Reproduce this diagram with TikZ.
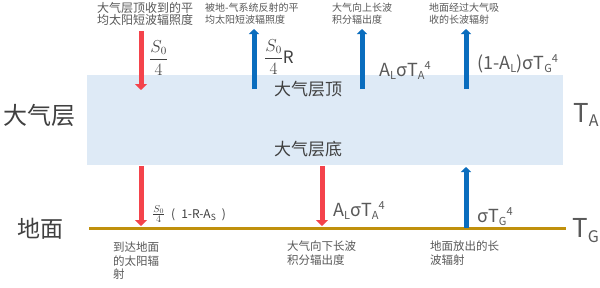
\documentclass[tikz,border=0pt]{standalone}
\usepackage{amsmath}
\usepackage{fontspec}
\newfontfamily\cjk{Noto Sans CJK SC}
\usetikzlibrary{arrows.meta, positioning}

\definecolor{sunred}{HTML}{F4434B}
\definecolor{heatblue}{HTML}{0A6DBE}
\definecolor{airblue}{HTML}{DEEAF6}
\definecolor{soilgold}{HTML}{C0900C}
\definecolor{txtgray}{HTML}{595959}
\definecolor{lblgray}{HTML}{404040}

\newcommand{\lowtxt}[1]{\raisebox{-3pt}{\fontsize{11}{11}\selectfont #1}}
\newcommand{\hightxt}[1]{\raisebox{7pt}{\fontsize{11}{11}\selectfont #1}}

\begin{document}
\begin{tikzpicture}[x=1pt, y=-1pt,
    redflux/.style={sunred, line width=5pt, -{Triangle[length=6pt, width=12pt]}},
    blueflux/.style={heatblue, line width=5pt, -{Triangle[length=5pt, width=10pt]}},
    note/.style={font=\cjk\fontsize{10}{12}\selectfont, text=txtgray, align=left, inner sep=0pt, anchor=north west},
    bignote/.style={font=\cjk\fontsize{11.5}{13.5}\selectfont, text=txtgray, align=left, inner sep=0pt, anchor=north west},
    formula/.style={font=\cjk\fontsize{18}{18}\selectfont, text=txtgray, inner sep=0pt, anchor=base west},
    layer/.style={font=\cjk\fontsize{24}{24}\selectfont, text=lblgray, inner sep=0pt}]
        \useasboundingbox (0,0) rectangle (600,287);
        \fill[white] (0,0) rectangle (600,287);

        % atmosphere slab and ground line
        \node[fill=airblue, minimum width=476pt, minimum height=90pt, inner sep=0pt, anchor=north west] (atm) at (87,75) {};
        \coordinate (gl) at (89,228);
        \coordinate (gr) at (566,228);
        \draw[soilgold, line width=3pt] (gl) -- (gr);

        % layer names
        \node[layer] (atmlbl) at (40,115) {大气层};
        \node[layer, font=\cjk\fontsize{23}{23}\selectfont] (gndlbl) at (40,229) {地面};
        \node[font=\cjk\fontsize{17}{17}\selectfont, text=lblgray] (atmtop) at (308,89) {大气层顶};
        \node[font=\cjk\fontsize{17}{17}\selectfont, text=lblgray] (atmbot) at (308,149) {大气层底};
        \node[anchor=base west, inner sep=0pt, text=txtgray] (ta) at (573,122) {\cjk\fontsize{26}{26}\selectfont T\raisebox{-4pt}{\fontsize{16}{16}\selectfont A}};
        \node[anchor=base west, inner sep=0pt, text=txtgray] (tg) at (572,237) {\cjk\fontsize{26}{26}\selectfont T\raisebox{-5pt}{\fontsize{16}{16}\selectfont G}};

        % flux end points
        \coordinate (s0a) at (141,31);
        \coordinate (s0b) at (141,90);
        \coordinate (rfa) at (254,89);
        \coordinate (rfb) at (254,29);
        \coordinate (lua) at (362,89);
        \coordinate (lub) at (362,29);
        \coordinate (gua) at (466,89);
        \coordinate (gub) at (466,29);
        \coordinate (sga) at (141,166);
        \coordinate (sgb) at (141,226);
        \coordinate (lda) at (322,166);
        \coordinate (ldb) at (322,226);
        \coordinate (gea) at (466,228);
        \coordinate (geb) at (466,167);

        % fluxes
        \draw[redflux] (s0a) -- (s0b);
        \draw[blueflux] (rfa) -- (rfb);
        \draw[blueflux] (lua) -- (lub);
        \draw[blueflux] (gua) -- (gub);
        \draw[redflux] (sga) -- (sgb);
        \draw[redflux] (lda) -- (ldb);
        \draw[blueflux] (gea) -- (geb);

        % flux values
        \node[anchor=west, inner sep=0pt, text=lblgray] (f1) at (149,58) {\fontsize{16}{16}\selectfont$\dfrac{S_0}{4}$};
        \node[anchor=base west, inner sep=0pt, text=lblgray] (f2) at (264,63) {\fontsize{16}{16}\selectfont$\dfrac{S_0}{4}$\cjk\fontsize{17}{17}\selectfont R};
        \node[formula] (f3) at (379,76) {A\lowtxt{L}σT\lowtxt{A}\hightxt{4}};
        \node[formula] (f4) at (477,69) {(1-A\lowtxt{L})σT\lowtxt{G}\hightxt{4}};
        \node[anchor=base west, inner sep=0pt, text=lblgray] (f5) at (152,218) {\fontsize{14}{14}\selectfont$\frac{S_0}{4}$\cjk\fontsize{12}{12}\selectfont\enspace(\enspace1-R-A\raisebox{-2pt}{\fontsize{8.5}{8.5}\selectfont S}\enspace)};
        \node[formula] (f6) at (333,216) {A\lowtxt{L}σT\lowtxt{A}\hightxt{4}};
        \node[formula] (f7) at (477,222) {σT\lowtxt{G}\hightxt{4}};

        % explanations
        \node[note, font=\cjk\fontsize{12}{12.5}\selectfont] (n1) at (97,2) {大气层顶收到的平\\均太阳短波辐照度};
        \node[note] (n2) at (205,3) {被地-气系统反射的平\\均太阳短波辐照度};
        \node[note] (n3) at (332,3) {大气向上长波\\积分辐出度};
        \node[note] (n4) at (429,3) {地面经过大气吸\\收的长波辐射};
        \node[bignote] (n5) at (113,242) {到达地面\\的太阳辐\\射};
        \node[bignote] (n6) at (287,241) {大气向下长波\\积分辐出度};
        \node[bignote] (n7) at (430,241) {地面放出的长\\波辐射};
\end{tikzpicture}
\end{document}
